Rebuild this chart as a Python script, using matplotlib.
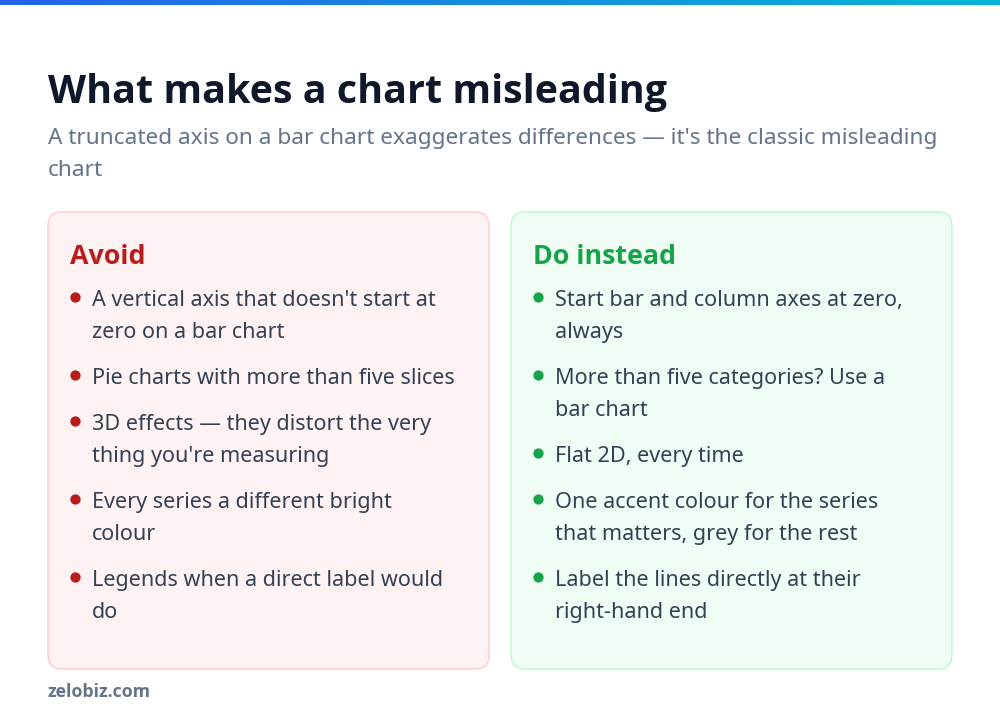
import numpy as np
import matplotlib.pyplot as plt
from matplotlib.patches import FancyBboxPatch
from matplotlib.colors import LinearSegmentedColormap

plt.rcParams['font.family'] = ['Noto Sans', 'DejaVu Sans']
BOLD = ['Open Sans', 'DejaVu Sans']

title = "What makes a chart misleading"
subtitle_lines = ["A truncated axis on a bar chart exaggerates differences \u2014 it's the classic misleading",
                  "chart"]
footer = "zelobiz.com"

avoid_head = "Avoid"
avoid_items = [
    "A vertical axis that doesn't start at\nzero on a bar chart",
    "Pie charts with more than five slices",
    "3D effects \u2014 they distort the very\nthing you're measuring",
    "Every series a different bright\ncolour",
    "Legends when a direct label would\ndo",
]
do_head = "Do instead"
do_items = [
    "Start bar and column axes at zero,\nalways",
    "More than five categories? Use a\nbar chart",
    "Flat 2D, every time",
    "One accent colour for the series\nthat matters, grey for the rest",
    "Label the lines directly at their\nright-hand end",
]

W, H = 1000, 723
fig = plt.figure(figsize=(W / 100, H / 100), dpi=100)
ax = fig.add_axes([0, 0, 1, 1])
ax.set_xlim(0, W)
ax.set_ylim(H, 0)
ax.axis('off')

# gradient strip at the top
grad = np.linspace(0, 1, 256).reshape(1, -1)
cmap = LinearSegmentedColormap.from_list('strip', ['#2563eb', '#06b6d4'])
ax.imshow(grad, cmap=cmap, extent=[0, W, 5, 0], aspect='auto')


def px(v):
    return v * 72 / 100


ax.text(48, 103, title, fontsize=px(39.4), fontweight='bold', family=BOLD,
        color='#0f172a', va='baseline')
for i, line in enumerate(subtitle_lines):
    ax.text(48, 144 + 32 * i, line, fontsize=px(22.6), color='#64748b', va='baseline')


def panel(x0, head, items, fill, edge, accent):
    box = FancyBboxPatch((x0, 212), 441, 457, boxstyle="round,pad=0,rounding_size=14",
                         facecolor=fill, edgecolor=edge, linewidth=1)
    ax.add_patch(box)
    ax.text(x0 + 22, 264, head, fontsize=px(26.8), fontweight='bold', family=BOLD,
            color=accent, va='baseline')
    y = 306
    for item in items:
        lines = item.split("\n")
        ax.scatter([x0 + 27], [y - 9], s=55, color=accent, zorder=3, linewidths=0)
        for j, ln in enumerate(lines):
            ax.text(x0 + 44, y + 32 * j, ln, fontsize=px(21.6), color='#334155', va='baseline')
        y += 32 * len(lines) + 14


panel(48, avoid_head, avoid_items, '#fef2f2', '#fecaca', '#b91c1c')
panel(511, do_head, do_items, '#f0fdf4', '#bbf7d0', '#16a34a')

ax.text(48, 697, footer, fontsize=px(17.7), fontweight='bold', family=BOLD,
        color='#64748b', va='baseline')

fig.savefig('out.png', dpi=100)
